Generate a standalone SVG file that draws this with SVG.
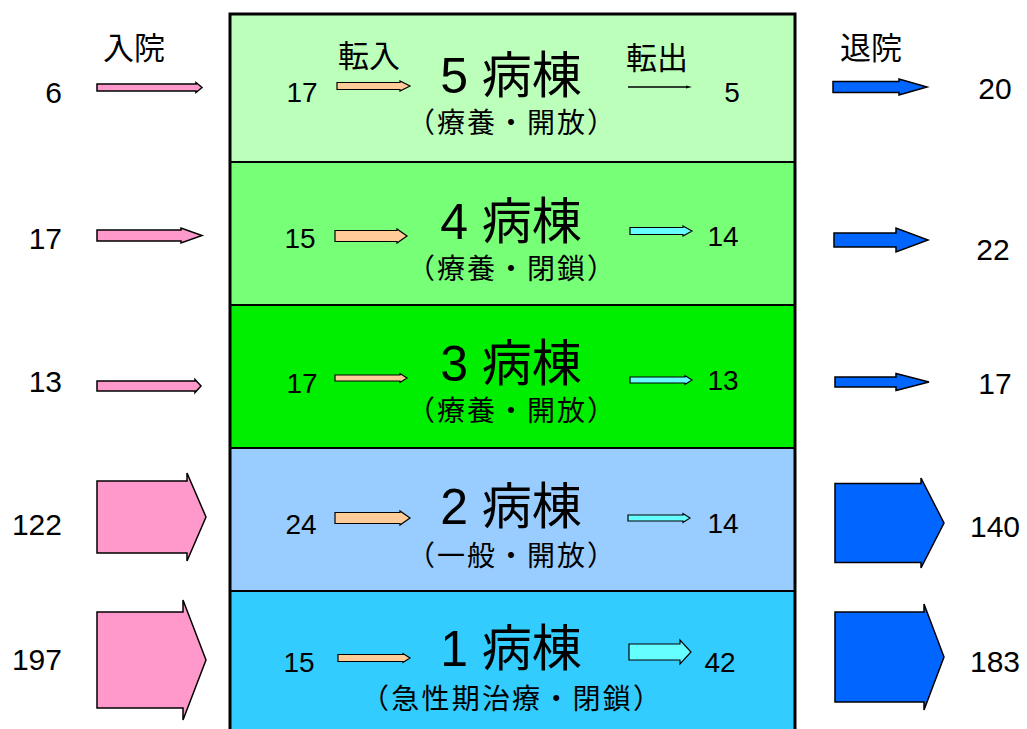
<svg xmlns="http://www.w3.org/2000/svg" width="1027" height="729" viewBox="0 0 1027 729">
<style>
.num{font-family:"Liberation Sans",Arial,sans-serif;font-size:30px;fill:#000}
.inum{font-family:"Liberation Sans",Arial,sans-serif;font-size:28px;fill:#000}
.title{font-family:"Liberation Sans","Noto Sans CJK JP",sans-serif;font-size:50px;fill:#000}
.sub{font-family:"Noto Sans CJK JP",sans-serif;font-size:28px;fill:#000}
.lbl{font-family:"Noto Sans CJK JP",sans-serif;font-size:31px;fill:#000}
.pink{fill:#FF99CC;stroke:#000;stroke-width:1.5}
.blue{fill:#0066FF;stroke:#000;stroke-width:1.5}
.orange{fill:#FFCC99;stroke:#000;stroke-width:1.2}
.cyan{fill:#66FFFF;stroke:#000;stroke-width:1.2}
.row{stroke:#000;stroke-width:2}
</style>
<rect x="0" y="0" width="1027" height="729" fill="#fff"/>
<g id="ward5">
<rect class="row" x="230" y="14" width="565" height="148" fill="#BBFFBB"/>
<text class="title" x="511" y="93" text-anchor="middle">5 病棟</text>
<text class="sub" x="511" y="133" text-anchor="middle" textLength="208" lengthAdjust="spacing">（療養・開放）</text>
</g>
<g id="ward4">
<rect class="row" x="230" y="162" width="565" height="143" fill="#77FF77"/>
<text class="title" x="511" y="239" text-anchor="middle">4 病棟</text>
<text class="sub" x="511" y="279" text-anchor="middle" textLength="208" lengthAdjust="spacing">（療養・閉鎖）</text>
</g>
<g id="ward3">
<rect class="row" x="230" y="305" width="565" height="143" fill="#00EE00"/>
<text class="title" x="511" y="381" text-anchor="middle">3 病棟</text>
<text class="sub" x="511" y="421" text-anchor="middle" textLength="208" lengthAdjust="spacing">（療養・開放）</text>
</g>
<g id="ward2">
<rect class="row" x="230" y="448" width="565" height="143" fill="#99CCFF"/>
<text class="title" x="511" y="524" text-anchor="middle">2 病棟</text>
<text class="sub" x="511" y="566" text-anchor="middle" textLength="208" lengthAdjust="spacing">（一般・開放）</text>
</g>
<g id="ward1">
<rect class="row" x="230" y="591" width="565" height="150" fill="#33CCFF"/>
<text class="title" x="511" y="666" text-anchor="middle">1 病棟</text>
<text class="sub" x="511" y="709" text-anchor="middle" textLength="300" lengthAdjust="spacing">（急性期治療・閉鎖）</text>
</g>
<rect x="230" y="14" width="565" height="730" fill="none" stroke="#000" stroke-width="3"/>
<g id="labels">
<text class="lbl" x="134" y="59" text-anchor="middle">入院</text>
<text class="lbl" x="871" y="59" text-anchor="middle">退院</text>
<text class="lbl" x="369" y="67" text-anchor="middle">転入</text>
<text class="lbl" x="657" y="69" text-anchor="middle">転出</text>
</g>
<g id="admission-numbers">
<text class="num" x="62" y="103" text-anchor="end">6</text>
<text class="num" x="62" y="249" text-anchor="end">17</text>
<text class="num" x="62" y="392" text-anchor="end">13</text>
<text class="num" x="62" y="535" text-anchor="end">122</text>
<text class="num" x="62" y="670" text-anchor="end">197</text>
</g>
<g id="discharge-numbers">
<text class="num" x="995" y="99" text-anchor="middle">20</text>
<text class="num" x="993" y="260" text-anchor="middle">22</text>
<text class="num" x="995" y="394" text-anchor="middle">17</text>
<text class="num" x="995" y="537" text-anchor="middle">140</text>
<text class="num" x="995" y="672" text-anchor="middle">183</text>
</g>
<g id="transfer-numbers">
<text class="inum" x="302" y="102" text-anchor="middle">17</text>
<text class="inum" x="300" y="248" text-anchor="middle">15</text>
<text class="inum" x="302" y="393" text-anchor="middle">17</text>
<text class="inum" x="301" y="534" text-anchor="middle">24</text>
<text class="inum" x="299" y="672" text-anchor="middle">15</text>
<text class="inum" x="732" y="102" text-anchor="middle">5</text>
<text class="inum" x="723" y="246" text-anchor="middle">14</text>
<text class="inum" x="723" y="390" text-anchor="middle">13</text>
<text class="inum" x="723" y="533" text-anchor="middle">14</text>
<text class="inum" x="720" y="672" text-anchor="middle">42</text>
</g>
<g id="connectors">
<path class="pink" d="M97,84 L196,84 L196,82.5 L202,87.5 L196,92.5 L196,91 L97,91 Z"/>
<path class="pink" d="M97,230 L181,230 L181,228 L202,235.5 L181,243 L181,241 L97,241 Z"/>
<path class="pink" d="M97,381 L195,381 L195,379.5 L201,386 L195,392.5 L195,391 L97,391 Z"/>
<path class="pink" d="M97,481 L187,481 L187,473 L206,517 L187,561 L187,553 L97,553 Z"/>
<path class="pink" d="M97,612 L183,612 L183,600 L206,660 L183,720 L183,708 L97,708 Z"/>
<path class="blue" d="M833,81.5 L899,81.5 L899,79 L927,87 L899,95 L899,92.5 L833,92.5 Z"/>
<path class="blue" d="M834,233 L896,233 L896,228 L928,240 L896,252 L896,247 L834,247 Z"/>
<path class="blue" d="M835,377 L896,377 L896,373.5 L929,382 L896,390.5 L896,387 L835,387 Z"/>
<path class="blue" d="M835,483.5 L921,483.5 L921,478 L944,523 L921,568 L921,562.5 L835,562.5 Z"/>
<path class="blue" d="M835,612 L924,612 L924,604 L944,657 L924,710 L924,702 L835,702 Z"/>
<path class="orange" d="M337,82.5 L400,82.5 L400,81 L410,86 L400,91 L400,89.5 L337,89.5 Z"/>
<path class="orange" d="M335,230.5 L397,230.5 L397,229 L407,236 L397,243 L397,241.5 L335,241.5 Z"/>
<path class="orange" d="M335,375 L400,375 L400,373.5 L407,378 L400,382.5 L400,381 L335,381 Z"/>
<path class="orange" d="M335,512.5 L400,512.5 L400,511 L410,518 L400,525 L400,523.5 L335,523.5 Z"/>
<path class="orange" d="M338,654.5 L403,654.5 L403,653.5 L410,658 L403,662.5 L403,661.5 L338,661.5 Z"/>
<line x1="628" y1="87" x2="688" y2="87" stroke="#000" stroke-width="1.3"/>
<path d="M686,85.5 L692,87 L686,88.5 Z" fill="#000"/>
<path class="cyan" d="M630,227.5 L683,227.5 L683,226 L692,231 L683,236 L683,234.5 L630,234.5 Z"/>
<path class="cyan" d="M630,377 L685,377 L685,375.5 L692,380 L685,384.5 L685,383 L630,383 Z"/>
<path class="cyan" d="M628,515 L683,515 L683,513.5 L690,518 L683,522.5 L683,521 L628,521 Z"/>
<path class="cyan" d="M629,644 L680,644 L680,640 L691,652 L680,664 L680,660 L629,660 Z"/>
</g>
</svg>
